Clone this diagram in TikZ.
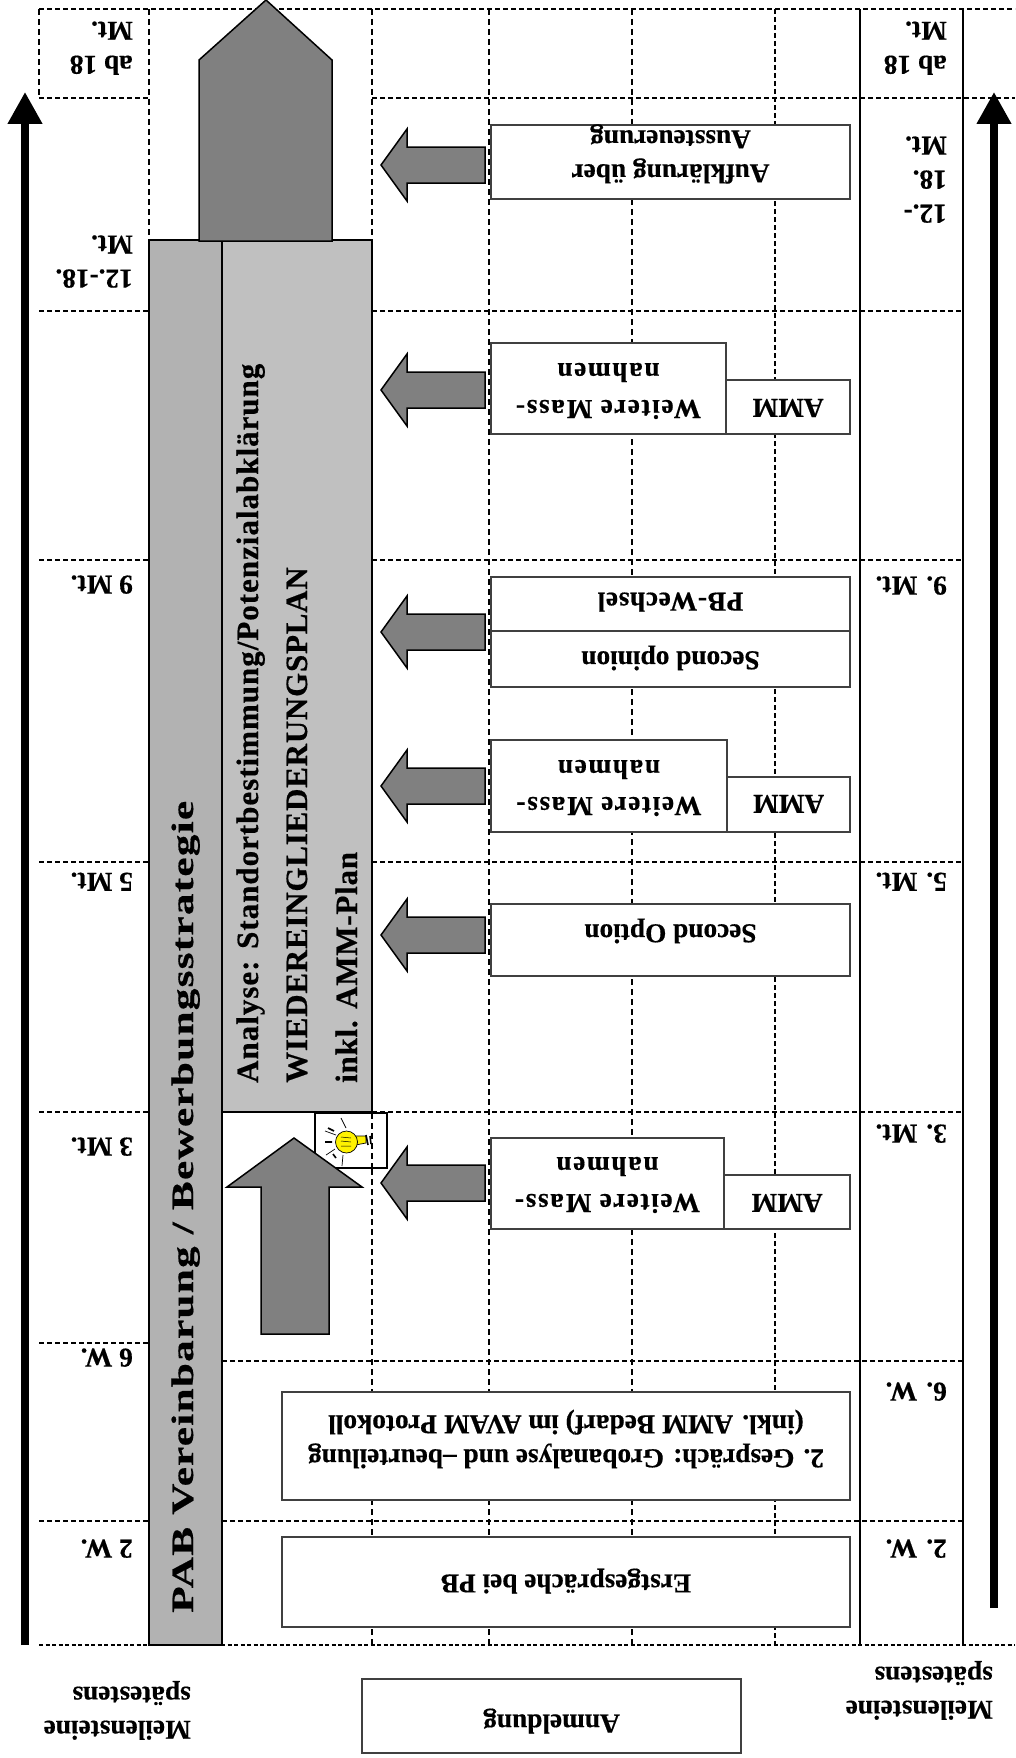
\documentclass[tikz,border=0pt]{standalone}
\usepackage{fontspec}
\setmainfont{Liberation Serif}[BoldFeatures={FakeBold=0.5}]
\newfontfamily\bandfont[LetterSpace=2.5,BoldFeatures={FakeBold=0.5}]{Liberation Serif}
\newfontfamily\pabfont[FakeStretch=1.4,LetterSpace=3.8,BoldFeatures={FakeBold=0.5}]{Liberation Serif}
\usetikzlibrary{arrows.meta}
\definecolor{bandleft}{HTML}{B2B2B2}
\definecolor{bandright}{HTML}{C0C0C0}
\definecolor{blockgray}{HTML}{808080}
\definecolor{edgegray}{HTML}{404040}
\tikzset{
	griddash/.style={line width=2.2pt, dash pattern=on 6pt off 4pt},
	griddot/.style={line width=2.5pt, dash pattern=on 5pt off 3pt},
	block/.style={draw=black, line width=1.5pt, fill=blockgray},
	plate/.style={draw=edgegray, line width=1.5pt, fill=white},
	upside/.style={rotate=180, font=\fontsize{27.3}{34}\selectfont\bfseries, align=center, inner sep=0pt},
	milestone/.style={upside, align=left, anchor=north west},
	bandtext/.style={rotate=90, anchor=base west, inner sep=0pt, font=\fontsize{31}{36}\bandfont\bfseries},
	trunk/.style={line width=7.5pt, -{Triangle[length=32pt,width=33pt]}}
}
\newcommand{\makepointer}[1]{
	\draw[block] (381,#1) -- (407,#1-36) -- (407,#1-18) -- (485,#1-18) -- (485,#1+18) -- (407,#1+18) -- (407,#1+36) -- cycle;
}
\newcommand{\makeplate}[6]{
	\draw[plate] (#1,#3) rectangle (#2,#4);
	\node[upside] at ({(#1+#2)/2},#5) {#6};
}
\newcommand{\spaced}[2]{{\addfontfeature{LetterSpace=#1}#2}}
\newcommand{\massnahmen}{\spaced{6}{Weitere Mass-}\\[3pt]\spaced{6}{nahmen}}

\begin{document}
\begin{tikzpicture}[x=1pt,y=-1pt]
	\useasboundingbox (0,0) rectangle (1015,1758);
	\coordinate (LS) at (25,1645);
	\coordinate (LE) at (25,92);
	\coordinate (RS) at (994,1608);
	\coordinate (RE) at (994,92);

	% grid
	\draw[griddot] (39,9) -- (1015,9);
	\draw[griddot] (39,98) -- (149,98);
	\draw[griddot] (372,98) -- (1015,98);
	\foreach \y in {311,560,862,1112} {
		\draw[griddot] (39,\y) -- (149,\y);
		\draw[griddot] (372,\y) -- (962,\y);
	}
	\draw[griddot] (39,1343) -- (149,1343);
	\draw[griddot] (222,1361) -- (962,1361);
	\draw[griddot] (39,1521) -- (149,1521);
	\draw[griddot] (222,1521) -- (962,1521);
	\draw[griddot, dash pattern=on 4pt off 2.5pt] (39,1645) -- (1015,1645);
	\draw[griddash] (39,9) -- (39,98);
	\draw[griddash] (149,9) -- (149,240);
	\draw[griddash] (372,9) -- (372,1645);
	\draw[griddash] (489,9) -- (489,1645);
	\draw[griddash] (632,9) -- (632,1645);
	\draw[griddot] (775,9) -- (775,1645);
	\draw[line width=2pt] (860,9) -- (860,1645);
	\draw[line width=2pt] (963,9) -- (963,1645);

	% bands
	\draw[line width=2pt, fill=bandleft] (149,240) rectangle (222,1645);
	\draw[line width=2pt, fill=bandright] (222,240) rectangle (372,1112);
	\draw[block] (266,0) -- (332,60) -- (332,241) -- (199,241) -- (199,60) -- cycle;

	% lamp
	\draw[line width=1.2pt, fill=white] (315,1113) rectangle (387,1168);
	\draw[griddash] (372,1113) -- (372,1168);
	\draw[line width=.7pt, fill=yellow] (350,1136) -- (366,1136) -- (366,1143) -- (350,1146) -- cycle;
	\draw[line width=.7pt, fill=yellow] (346.5,1142) circle (11);
	\draw[line width=.5pt] (341,1137) -- (351,1138) (341,1141) -- (351,1142) (341,1146) -- (351,1146);
	\draw[line width=.7pt] (341,1118) -- (346,1128) (325,1131) -- (336,1135) (326,1155) -- (335,1149) (343,1155) -- (342,1166);
	\draw[line width=1.6pt] (366,1135) -- (368,1145) (370,1136) -- (371,1144) (328,1128) -- (334,1131) (325,1142) -- (332,1142) (333,1154) -- (336,1158);

	\draw[block] (294,1138) -- (362,1187) -- (329,1187) -- (329,1334) -- (261,1334) -- (261,1187) -- (227,1187) -- cycle;

	% pointers
	\foreach \y in {165,390,632,786,935,1183} {
		\makepointer{\y}
	}

	% plates
	\makeplate{491}{850}{125}{199}{154}{Aufklärung über\\Aussteuerung}
	\makeplate{726}{850}{380}{434}{408}{AMM}
	\makeplate{491}{726}{343}{434}{391}{\massnahmen}
	\makeplate{491}{850}{577}{631}{602}{\spaced{2.5}{PB-Wechsel}}
	\makeplate{491}{850}{631}{687}{658}{Second opinion}
	\makeplate{727}{850}{777}{832}{804}{AMM}
	\makeplate{491}{727}{740}{832}{788}{\massnahmen}
	\makeplate{491}{850}{904}{976}{931}{Second Option}
	\makeplate{724}{850}{1175}{1229}{1203}{AMM}
	\makeplate{491}{724}{1138}{1229}{1185}{\massnahmen}
	\makeplate{282}{850}{1392}{1500}{1439}{2. Gespräch: Grobanalyse und –beurteilung\\(inkl. AMM Bedarf) im AVAM Protokoll}
	\makeplate{282}{850}{1537}{1627}{1581}{Erstgespräche bei PB}
	\makeplate{362}{741}{1679}{1753}{1721}{Anmeldung}

	% milestones
	\node[milestone] (ml1) at (133,75) {ab 18\\Mt.};
	\node[milestone] (ml2) at (133,288) {12.-18.\\Mt.};
	\node[milestone] (ml3) at (133,594) {9 Mt.};
	\node[milestone] (ml4) at (133,891) {5 Mt.};
	\node[milestone] (ml5) at (133,1156) {3 Mt.};
	\node[milestone] (ml6) at (133,1367) {6 W.};
	\node[milestone] (ml7) at (133,1558) {2 W.};
	\node[milestone] (mr1) at (947,75) {ab 18\\Mt.};
	\node[milestone] (mr2) at (947,223) {12.-\\18.\\Mt.};
	\node[milestone] (mr3) at (947,595) {9. Mt.};
	\node[milestone] (mr4) at (947,891) {5. Mt.};
	\node[milestone] (mr5) at (947,1143) {3. Mt.};
	\node[milestone] (mr6) at (947,1401) {6. W.};
	\node[milestone] (mr7) at (947,1558) {2. W.};
	\node[milestone] (hl) at (191,1740) {Meilensteine\\spätestens};
	\node[milestone] (hr) at (993,1720) {Meilensteine\\spätestens};

	% band texts
	\node[bandtext, font=\fontsize{31}{36}\pabfont\bfseries] (pab) at (193,1613) {PAB Vereinbarung / Bewerbungsstrategie};
	\node[bandtext] (ana) at (258,1083) {\spaced{3.2}{Analyse: Standortbestimmung/Potenzialabklärung}};
	\node[bandtext] (wie) at (307,1083) {WIEDEREINGLIEDERUNGSPLAN};
	\node[bandtext] (ink) at (357,1083) {inkl. AMM-Plan};

	% trunk arrows
	\draw[trunk] (LS) -- (LE);
	\draw[trunk] (RS) -- (RE);
\end{tikzpicture}
\end{document}
